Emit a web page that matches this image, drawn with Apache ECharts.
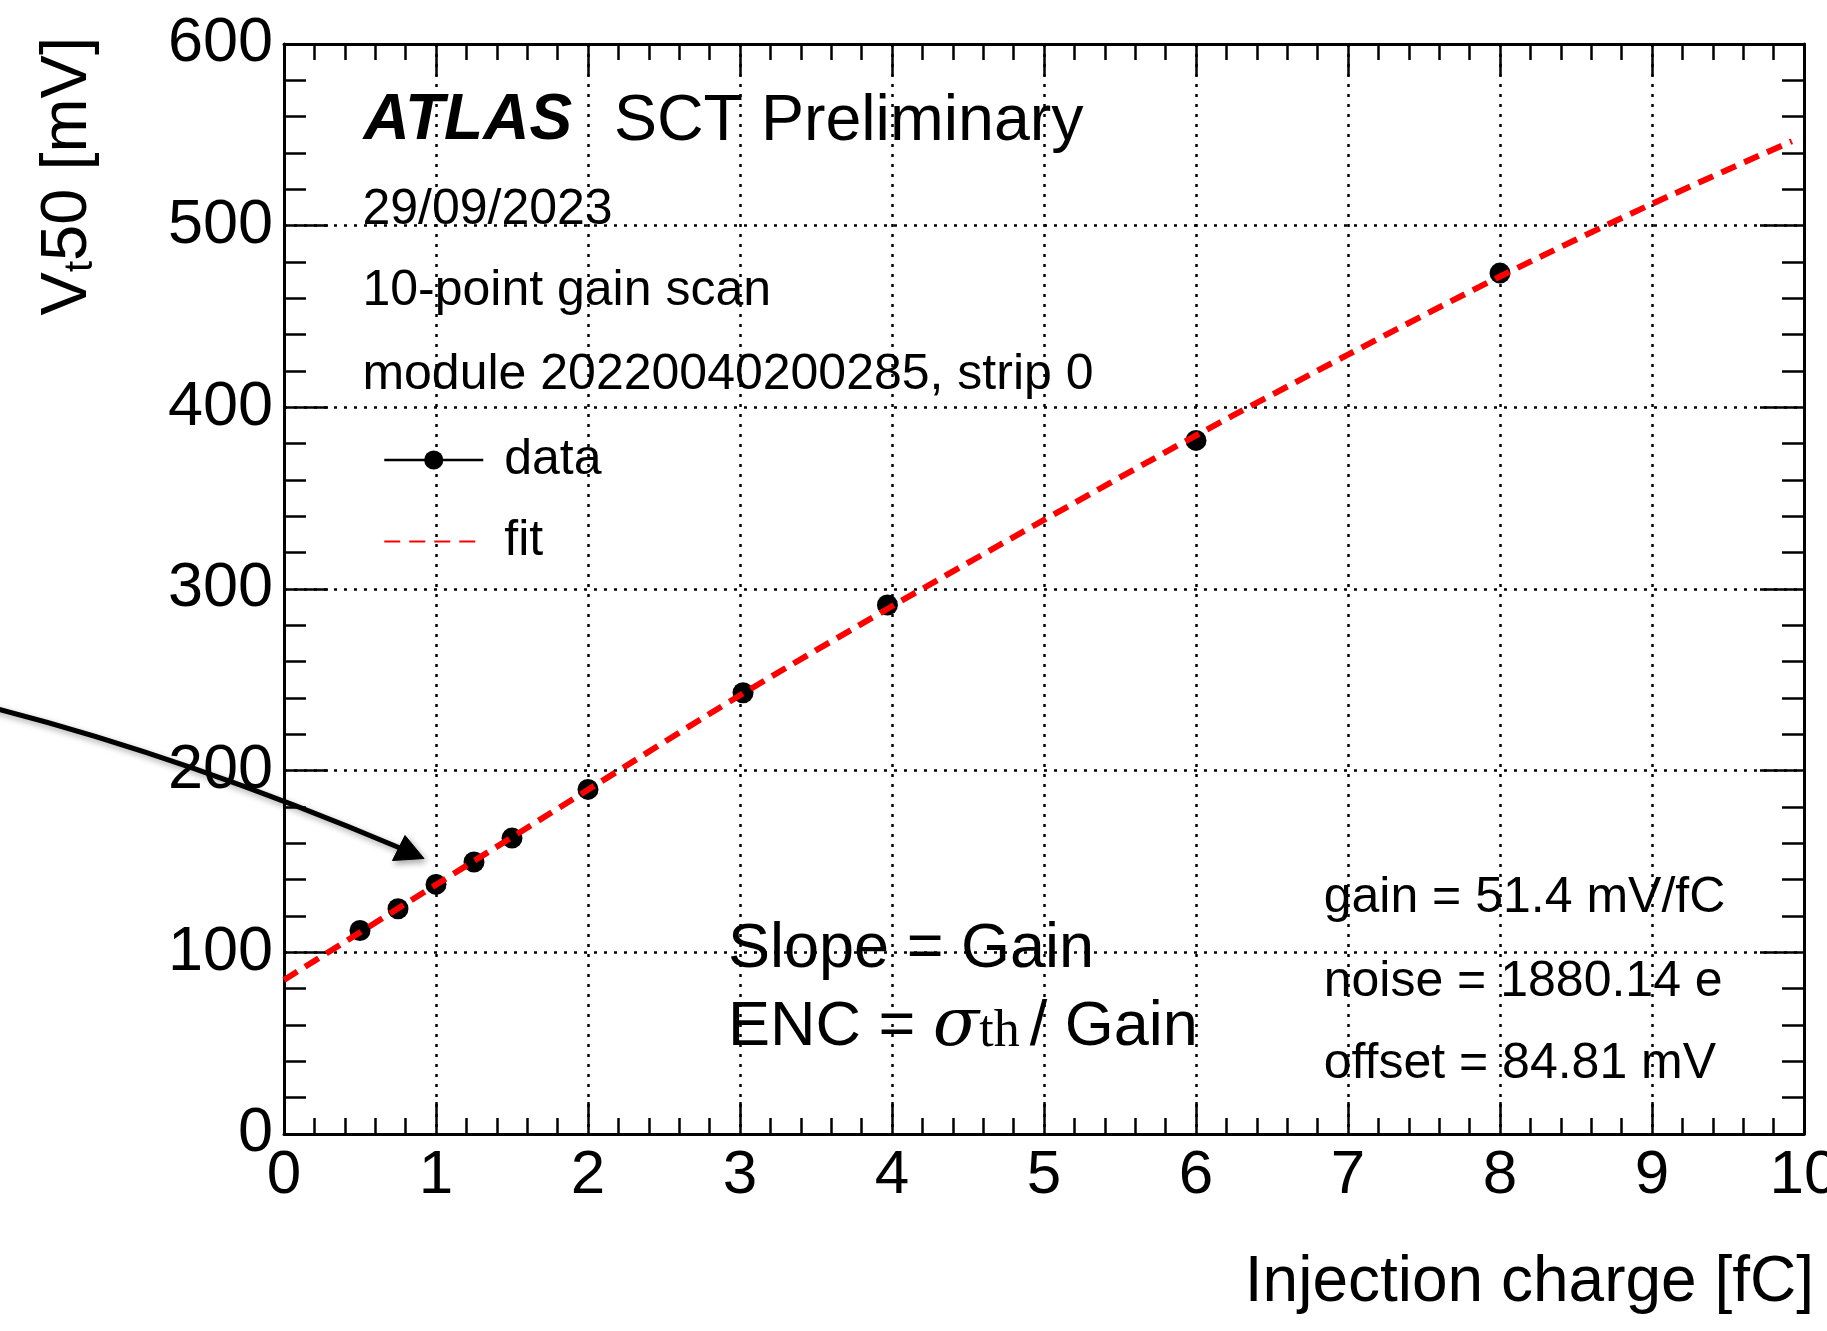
<!DOCTYPE html>
<html>
<head>
<meta charset="utf-8">
<script src="https://cdn.jsdelivr.net/npm/echarts@6/dist/echarts.min.js"></script>
<style>
html,body{margin:0;padding:0;background:#ffffff;}
#c{width:1827px;height:1331px;}
</style>
</head>
<body>
<div id="c"></div>
<script>
// ---- data ----
const charge = [0.5, 0.75, 1.0, 1.25, 1.5, 2.0, 3.02, 3.97, 6.0, 8.0];          // fC
const vt50   = [112.0, 124.0, 137.4, 149.7, 162.9, 189.7, 242.9, 291.2, 381.8, 473.9]; // mV
const fitCharge = [0, 1, 2, 3, 4, 5, 6, 7, 8, 9, 9.92];
const fitVt50   = [84.8, 137.2, 189.5, 241.5, 290.5, 338.0, 384.5, 429.0, 472.0, 512.0, 546.5];
const xTickLabels = ['0','1','2','3','4','5','6','7','8','9','10'];
const yTickLabels = ['0','100','200','300','400','500','600'];
const seriesNames = ['data', 'fit'];
const statLines = ['gain = 51.4 mV/fC', 'noise = 1880.14 e', 'offset = 84.81 mV'];
const infoLines = ['29/09/2023', '10-point gain scan', 'module 20220040200285, strip 0'];

const F = '"Liberation Sans", Arial, Helvetica, sans-serif';
const SERIF = '"Liberation Serif", "Times New Roman", serif';
const MATH = '"DejaVu Serif", "Liberation Serif", serif';
const M = 0.3465; // middle -> alphabetic baseline offset (em)
const DY = 4;     // fine vertical correction

const chart = echarts.init(document.getElementById('c'), null, {renderer: 'canvas'});

function xAxisDef(pos, showLab) {
  return {
    type: 'value', position: pos, min: 0, max: 10, interval: 1,
    axisLine: {show: true, onZero: false, lineStyle: {color: '#000', width: 3}},
    axisTick: {show: true, inside: true, length: 32, lineStyle: {color: '#000', width: 2.5}},
    minorTick: {show: true, splitNumber: 5, length: 16, lineStyle: {color: '#000', width: 2.5}},
    splitLine: {show: showLab, lineStyle: {color: '#000', width: 2.5, type: [3, 7]}},
    minorSplitLine: {show: false},
    axisLabel: {show: showLab, color: '#000', fontFamily: F, fontSize: 62, margin: 11,
      formatter: v => xTickLabels[Math.round(v)]}
  };
}
function yAxisDef(pos, showLab) {
  return {
    type: 'value', position: pos, min: 0, max: 600, interval: 100,
    axisLine: {show: true, onZero: false, lineStyle: {color: '#000', width: 3}},
    axisTick: {show: true, inside: true, length: 44, lineStyle: {color: '#000', width: 2.5}},
    minorTick: {show: true, splitNumber: 5, length: 22, lineStyle: {color: '#000', width: 2.5}},
    splitLine: {show: showLab, lineStyle: {color: '#000', width: 2.5, type: [3, 7]}},
    minorSplitLine: {show: false},
    axisLabel: {show: showLab, color: '#000', fontFamily: F, fontSize: 63, margin: 11,
      formatter: v => yTickLabels[Math.round(v / 100)]}
  };
}

function txt(text, x, baseline, size, extra) {
  return {
    type: 'text', x: x, y: baseline - M * size + DY, z: 50,
    style: Object.assign({text: text, fill: '#000', fontFamily: F, fontSize: size,
      align: 'left', verticalAlign: 'middle'}, extra || {})
  };
}

const graphics = [
  txt('ATLAS', 363.5, 140, 64, {fontWeight: 'bold', fontStyle: 'italic'}),
  txt('SCT Preliminary', 614, 140, 64, {fontSize: 64.5}),
  txt(infoLines[0], 362.4, 224, 50),
  txt(infoLines[1], 362.4, 305, 50),
  txt(infoLines[2], 362.4, 389, 50),
  txt('Slope = Gain', 728, 967, 63),
  {
    type: 'text', x: 728, y: 1045 - M * 63 + DY, z: 50,
    style: {
      text: '{n|ENC = }{s|σ}{sub|th}{g|/ Gain}',
      align: 'left', verticalAlign: 'middle', fill: '#000',
      rich: {
        n: {fontFamily: F, fontSize: 63, lineHeight: 63, fill: '#000'},
        s: {fontFamily: MATH, fontStyle: 'italic', fontSize: 68, lineHeight: 63, fill: '#000'},
        sub: {fontFamily: SERIF, fontSize: 52, lineHeight: 24, verticalAlign: 'bottom', fill: '#000'},
        g: {fontFamily: F, fontSize: 63, lineHeight: 63, fill: '#000', padding: [0, 0, 0, 10]}
      }
    }
  },
  txt(statLines[0], 1323.7, 912, 50),
  txt(statLines[1], 1323.7, 996, 50),
  txt(statLines[2], 1323.7, 1078, 50),
  txt('Injection charge [fC]', 1814, 1301.5, 64, {align: 'right'}),
  {
    type: 'text', x: 36, y: 37, rotation: Math.PI / 2, z: 50,
    style: {
      text: '{n|V}{sub|t}{n|50 [mV]}',
      align: 'right', verticalAlign: 'top', fill: '#000',
      rich: {
        n: {fontFamily: F, fontSize: 65, lineHeight: 65, fill: '#000'},
        sub: {fontFamily: F, fontSize: 40, lineHeight: 28, verticalAlign: 'bottom', fill: '#000'}
      }
    }
  },
  // annotation arrow
  {
    type: 'bezierCurve', z: 60,
    shape: {x1: -10, y1: 707, cpx1: 183, cpy1: 756, x2: 400, y2: 848},
    style: {stroke: '#000', lineWidth: 5, fill: null,
      shadowBlur: 6, shadowColor: 'rgba(0,0,0,0.35)', shadowOffsetX: 2, shadowOffsetY: 3}
  },
  {
    type: 'polygon', z: 60,
    shape: {points: [[424, 858.5], [405, 835.5], [392.5, 860.5]]},
    style: {fill: '#000', stroke: '#000', lineWidth: 1,
      shadowBlur: 6, shadowColor: 'rgba(0,0,0,0.35)', shadowOffsetX: 2, shadowOffsetY: 3}
  }
];

chart.setOption({
  animation: false,
  backgroundColor: '#ffffff',
  grid: {left: 284, right: 23, top: 44, bottom: 197, containLabel: false, outerBoundsMode: 'none'},
  xAxis: [xAxisDef('bottom', true), xAxisDef('top', false)],
  yAxis: [yAxisDef('left', true), yAxisDef('right', false)],
  legend: {
    show: true, orient: 'vertical', left: 383, top: 435, padding: 0,
    itemWidth: 99, itemHeight: 24, itemGap: 31.5, selectedMode: false,
    textStyle: {fontFamily: F, fontSize: 50, color: '#000', padding: [0, 0, 0, 16]},
    data: [
      {name: seriesNames[0], lineStyle: {opacity: 1, width: 2.5, color: '#000'}},
      {name: seriesNames[1], itemStyle: {opacity: 0}}
    ]
  },
  series: [
    {
      name: seriesNames[0], type: 'line', xAxisIndex: 0, yAxisIndex: 0,
      data: charge.map((x, i) => [x, vt50[i]]),
      symbol: 'circle', symbolSize: 21, showSymbol: true,
      itemStyle: {color: '#000', borderWidth: 0},
      lineStyle: {opacity: 0, width: 2.5, color: '#000'},
      z: 3
    },
    {
      name: seriesNames[1], type: 'line', xAxisIndex: 0, yAxisIndex: 0,
      data: fitCharge.map((x, i) => [x, fitVt50[i]]),
      symbol: 'none', smooth: 0.3,
      itemStyle: {color: '#ff0000'},
      lineStyle: {color: '#ff0000', width: 6, type: [16, 9], cap: 'butt'},
      z: 4
    }
  ],
  graphic: graphics
});
</script>
</body>
</html>
